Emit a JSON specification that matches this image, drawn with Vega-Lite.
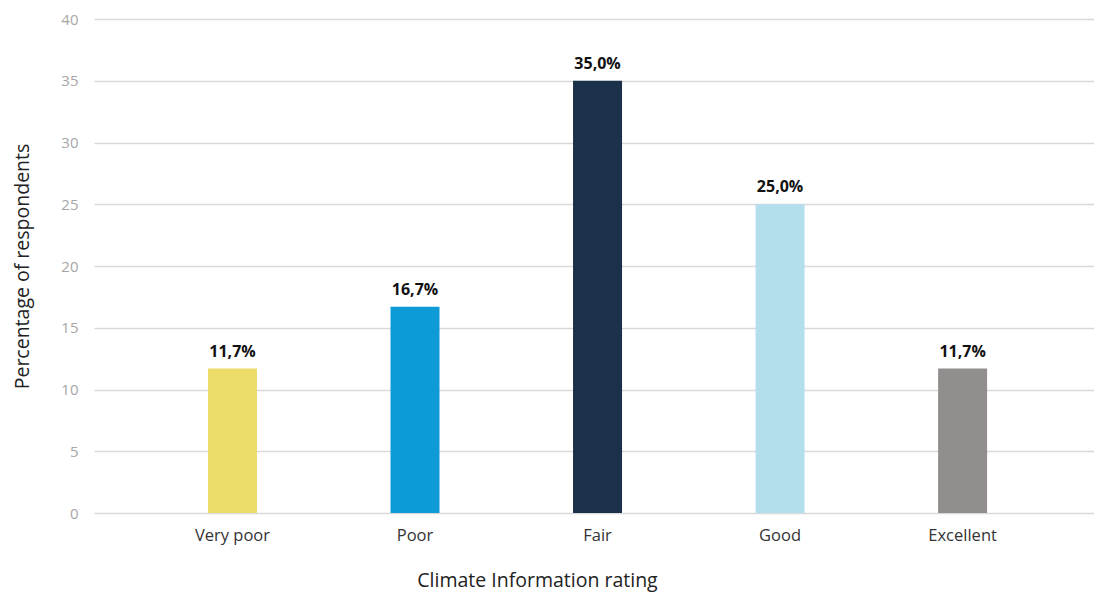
{
  "$schema": "https://vega.github.io/schema/vega-lite/v6.json",
  "width": 1000,
  "height": 494,
  "autosize": {"type": "none"},
  "padding": {"left": 94, "top": 19, "right": 0, "bottom": 81},
  "background": "white",
  "data": {
    "values": [
      {"rating": "Very poor", "pct": 11.7, "label": "11,7%"},
      {"rating": "Poor", "pct": 16.7, "label": "16,7%"},
      {"rating": "Fair", "pct": 35.0, "label": "35,0%"},
      {"rating": "Good", "pct": 25.0, "label": "25,0%"},
      {"rating": "Excellent", "pct": 11.7, "label": "11,7%"}
    ]
  },
  "encoding": {
    "x": {
      "field": "rating",
      "type": "nominal",
      "sort": null,
      "scale": {"paddingInner": 0.7315, "paddingOuter": 0.605, "align": 0.516},
      "axis": {
        "title": "Climate Information rating",
        "labelAngle": 0,
        "labelFont": "Open Sans",
        "labelFontSize": 16.5,
        "labelColor": "#333333",
        "labelPadding": 14,
        "ticks": false,
        "domain": false,
        "grid": false,
        "titleFont": "Open Sans",
        "titleFontSize": 19.5,
        "titleFontWeight": "normal",
        "titleColor": "#222222",
        "titleX": 443,
        "titleY": 67,
        "titleBaseline": "middle",
        "titleAlign": "center"
      }
    },
    "y": {
      "field": "pct",
      "type": "quantitative",
      "scale": {"domain": [0, 40], "nice": false},
      "axis": {
        "title": "Percentage of respondents",
        "values": [0, 5, 10, 15, 20, 25, 30, 35, 40],
        "labelFont": "Open Sans",
        "labelFontSize": 15,
        "labelColor": "#a6a6a6",
        "labelPadding": 16,
        "ticks": false,
        "domain": false,
        "gridColor": "#d9d9d9",
        "gridWidth": 1.3,
        "titleFont": "Open Sans",
        "titleFontSize": 19.5,
        "titleFontWeight": "normal",
        "titleColor": "#222222",
        "titleX": -72,
        "titleY": 247,
        "titleAngle": -90,
        "titleBaseline": "middle",
        "titleAlign": "center"
      }
    }
  },
  "layer": [
    {
      "mark": {"type": "bar"},
      "encoding": {
        "color": {
          "field": "rating",
          "type": "nominal",
          "sort": null,
          "scale": {
            "domain": ["Very poor", "Poor", "Fair", "Good", "Excellent"],
            "range": ["#ecdc6a", "#0e9ad7", "#1b3149", "#b3deeb", "#928e8d"]
          },
          "legend": null
        }
      }
    },
    {
      "mark": {
        "type": "text",
        "baseline": "bottom",
        "dy": -9,
        "font": "Open Sans",
        "fontSize": 16,
        "fontWeight": "bold",
        "color": "#111111"
      },
      "encoding": {"text": {"field": "label"}}
    }
  ],
  "config": {"view": {"stroke": null}}
}
